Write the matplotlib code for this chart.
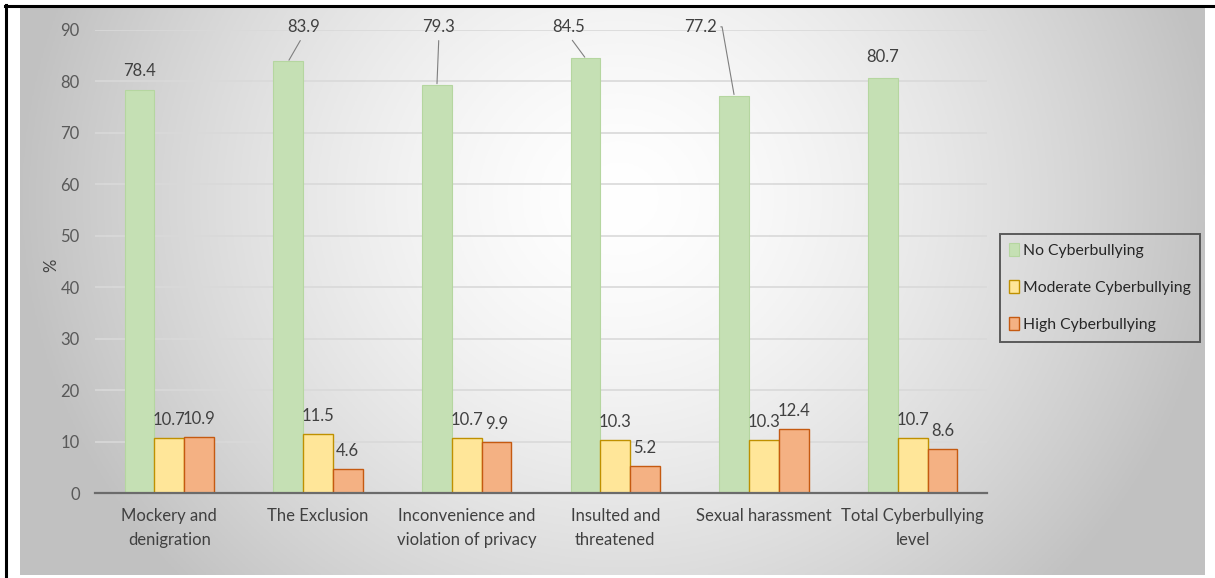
import matplotlib.pyplot as plt
import numpy as np
from matplotlib.lines import Line2D

plt.rcParams['font.family'] = ['Lato', 'DejaVu Sans']

# Data
categories = ['Mockery and\ndenigration', 'The Exclusion',
              'Inconvenience and\nviolation of privacy', 'Insulted and\nthreatened',
              'Sexual harassment', 'Total Cyberbullying\nlevel']
no_cb = [78.4, 83.9, 79.3, 84.5, 77.2, 80.7]
moderate_cb = [10.7, 11.5, 10.7, 10.3, 10.3, 10.7]
high_cb = [10.9, 4.6, 9.9, 5.2, 12.4, 8.6]
series_names = ['No Cyberbullying', 'Moderate Cyberbullying', 'High Cyberbullying']

# label offsets for the green bars (pixels from bar top), some with leader lines
green_offsets = [(0, 19), (15, 34), (2, 58), (-17, 31), (-34, 69), (0, 21)]
green_leaders = [None, 'up', 'up', 'up', 'hook', None]

W, H = 1215, 578
fig = plt.figure(figsize=(W / 100, H / 100), dpi=100)

# gradient background
bg = fig.add_axes([20 / W, 3 / H, 1185 / W, 568 / H], zorder=-2)
gx, gy = np.meshgrid(np.linspace(20, 1205, 400), np.linspace(3, 571, 200))
r = np.sqrt(((gx - 620) / 600) ** 2 + ((gy - 380) / 560) ** 2)
shade = 1 - 0.24 * np.clip(r, 0, 1) ** 1.5
bg.imshow(np.dstack([shade] * 3), aspect='auto', extent=[0, 1, 0, 1], origin='lower')
bg.axis('off')

# image border
fig.add_artist(Line2D([5 / W, 1], [1 - 6 / H, 1 - 6 / H], color='black', lw=2.2))
fig.add_artist(Line2D([6 / W, 6 / W], [0, 1 - 5 / H], color='black', lw=2.2))

ax = fig.add_axes([95 / W, 85 / H, 892 / W, 463 / H])
ax.set_facecolor('none')

x = np.arange(len(categories))
w = 0.2
b1 = ax.bar(x - w, no_cb, w, color='#C5E0B4', edgecolor='#B5D6A0', linewidth=0.8, label=series_names[0])
b2 = ax.bar(x, moderate_cb, w, color='#FFE699', edgecolor='#BF9000', linewidth=1.0, label=series_names[1])
b3 = ax.bar(x + w, high_cb, w, color='#F4B183', edgecolor='#C55A11', linewidth=1.0, label=series_names[2])

ax.set_xlim(-0.5, len(categories) - 0.5)
ax.set_ylim(0, 90)
ax.set_yticks(np.arange(0, 91, 10))
ax.yaxis.grid(True, color='#d9d9d9', linewidth=1.2)
ax.set_axisbelow(True)
for s in ['top', 'right', 'left']:
    ax.spines[s].set_visible(False)
ax.spines['bottom'].set_color('#6b6b6b')
ax.spines['bottom'].set_linewidth(1.6)

ax.set_xticks(x)
ax.set_xticklabels(categories, fontsize=12, color='#404040')
for lab in ax.get_xticklabels():
    lab.set_linespacing(1.6)
ax.tick_params(axis='x', length=0, pad=11)
ax.tick_params(axis='y', length=0, pad=11, labelsize=12, labelcolor='#595959')
ax.set_ylabel('%', fontsize=12, color='#404040')
ax.yaxis.set_label_coords(-0.04, 0.492)

px = 0.72  # pixels -> points

# value labels
for i, v in enumerate(no_cb):
    dx, dy = green_offsets[i]
    kw = {}
    if green_leaders[i] == 'up':
        kw['arrowprops'] = dict(arrowstyle='-', color='#7f7f7f', lw=0.8,
                                relpos=(0.5, 0), shrinkA=2, shrinkB=1)
    elif green_leaders[i] == 'hook':
        kw['arrowprops'] = dict(arrowstyle='-', color='#7f7f7f', lw=0.8,
                                relpos=(1, 0.5), shrinkA=1, shrinkB=1,
                                connectionstyle='angle,angleA=0,angleB=100,rad=0')
    ax.annotate(f'{v}', xy=(x[i] - w, v), xytext=(dx * px, dy * px),
                textcoords='offset points', ha='center', va='center',
                fontsize=12, color='#404040', **kw)

for xs, vals in [(x, moderate_cb), (x + w, high_cb)]:
    for xi, v in zip(xs, vals):
        ax.annotate(f'{v}', xy=(xi, v), xytext=(0, 18 * px),
                    textcoords='offset points', ha='center', va='center',
                    fontsize=12, color='#404040')

leg = fig.legend(handles=[b1, b2, b3], loc='upper left',
                 bbox_to_anchor=(1000 / W, 1 - 234 / H), frameon=True,
                 fancybox=False, edgecolor='#3a3a3a', facecolor='none',
                 fontsize=11.3, handlelength=0.6, handleheight=0.9,
                 handletextpad=0.25, labelspacing=1.4, borderpad=0.6,
                 borderaxespad=0)
leg.get_frame().set_linewidth(1.4)
for t in leg.get_texts():
    t.set_color('#262626')

plt.savefig('out.png', dpi=100)
